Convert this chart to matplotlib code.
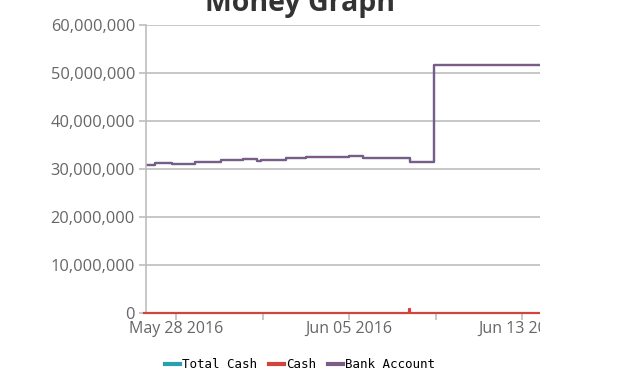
import matplotlib

matplotlib.use("Agg")

import matplotlib.dates as mdates
import matplotlib.pyplot as plt
import matplotlib.patches as mpatches
import pandas as pd
from matplotlib.ticker import FuncFormatter

# step changes of the bank account balance
bank_dates = [
    "2016-05-26 12:00", "2016-05-27 00:00", "2016-05-27 19:00", "2016-05-28 00:00",
    "2016-05-28 21:00", "2016-05-30 02:00", "2016-05-31 02:00", "2016-05-31 18:00",
    "2016-05-31 22:00", "2016-06-02 02:00", "2016-06-03 00:00", "2016-06-05 00:00",
    "2016-06-05 16:00", "2016-06-07 20:00", "2016-06-08 22:00", "2016-06-09 22:00",
    "2016-06-14 00:00",
]
bank_values = [
    30.9e6, 31.25e6, 31.05e6, 31.1e6,
    31.45e6, 31.9e6, 32.1e6, 31.7e6,
    31.9e6, 32.3e6, 32.6e6, 32.8e6,
    32.35e6, 31.5e6, 51.6e6, 51.7e6,
    51.7e6,
]
# total cash sits right under the bank account line
total_values = list(bank_values)

cash_dates = ["2016-05-26 12:00", "2016-06-07 19:00", "2016-06-07 20:00", "2016-06-14 00:00"]
cash_values = [0, 0.8e6, 0, 0]

y_ticks = [0, 10e6, 20e6, 30e6, 40e6, 50e6, 60e6]

BLUE = "#2a9fb0"
RED = "#d2443b"
PURPLE = "#7c5b86"
GRID = "#bdbdbd"
TEXT = "#666666"

plt.rcParams["font.family"] = ["Open Sans", "DejaVu Sans"]

bank = pd.Series(bank_values, index=pd.to_datetime(bank_dates))
total = pd.Series(total_values, index=pd.to_datetime(bank_dates))
cash = pd.Series(cash_values, index=pd.to_datetime(cash_dates))

fig = plt.figure(figsize=(6.4, 3.87), dpi=100)
ax = fig.add_axes([146 / 640, 1 - 313 / 387, 394 / 640, 288 / 387])

ax.step(total.index, total.values, where="post", color=BLUE, lw=1.6, label="Total Cash")
ax.step(cash.index, cash.values, where="post", color=RED, lw=1.6, label="Cash",
        clip_on=False, zorder=4)
ax.step(bank.index, bank.values, where="post", color=PURPLE, lw=1.6, label="Bank Account")

ax.set_ylim(0, 60e6)
ax.set_yticks(y_ticks)
ax.yaxis.set_major_formatter(FuncFormatter(lambda v, _: f"{int(v):,}"))
ax.set_xlim(pd.Timestamp("2016-05-26 14:30"), pd.Timestamp("2016-06-13 20:00"))

ax.xaxis.set_major_locator(mdates.DayLocator(bymonthday=[5, 13, 28]))
ax.xaxis.set_minor_locator(mdates.DayLocator(bymonthday=[1, 9]))
ax.xaxis.set_major_formatter(mdates.DateFormatter("%b %d %Y"))

ax.grid(axis="y", color=GRID, lw=1.2)
ax.set_axisbelow(True)
for side in ["top", "right"]:
    ax.spines[side].set_visible(False)
ax.spines["left"].set_color(GRID)
ax.spines["left"].set_linewidth(1.2)
ax.spines["bottom"].set_color(GRID)
ax.spines["bottom"].set_linewidth(1.2)
ax.tick_params(axis="y", colors=GRID, labelcolor=TEXT, labelsize=11.8, length=5, width=1.2, pad=3)
ax.tick_params(axis="x", which="both", colors=GRID, labelcolor=TEXT, labelsize=11.5, length=5,
               width=1.2, pad=0.5)

fig.text(300 / 640, 1 - 4 / 387, "Money Graph", ha="center", va="center",
         fontsize=20.5, fontweight="bold", color="#333333")

leg = fig.legend(loc="center", bbox_to_anchor=(300 / 640, 1 - 365 / 387), ncol=3, frameon=False,
                 prop={"family": "DejaVu Sans Mono", "size": 9}, handlelength=1.2,
                 handletextpad=0.15, columnspacing=1.0)
for line in leg.get_lines():
    line.set_linewidth(3)

# the chart is cut off on the right
fig.add_artist(mpatches.Rectangle((540 / 640, 0.1), 100 / 640, 0.9, transform=fig.transFigure,
                                  facecolor="white", edgecolor="none", zorder=10))

fig.savefig("out.png", dpi=100)
